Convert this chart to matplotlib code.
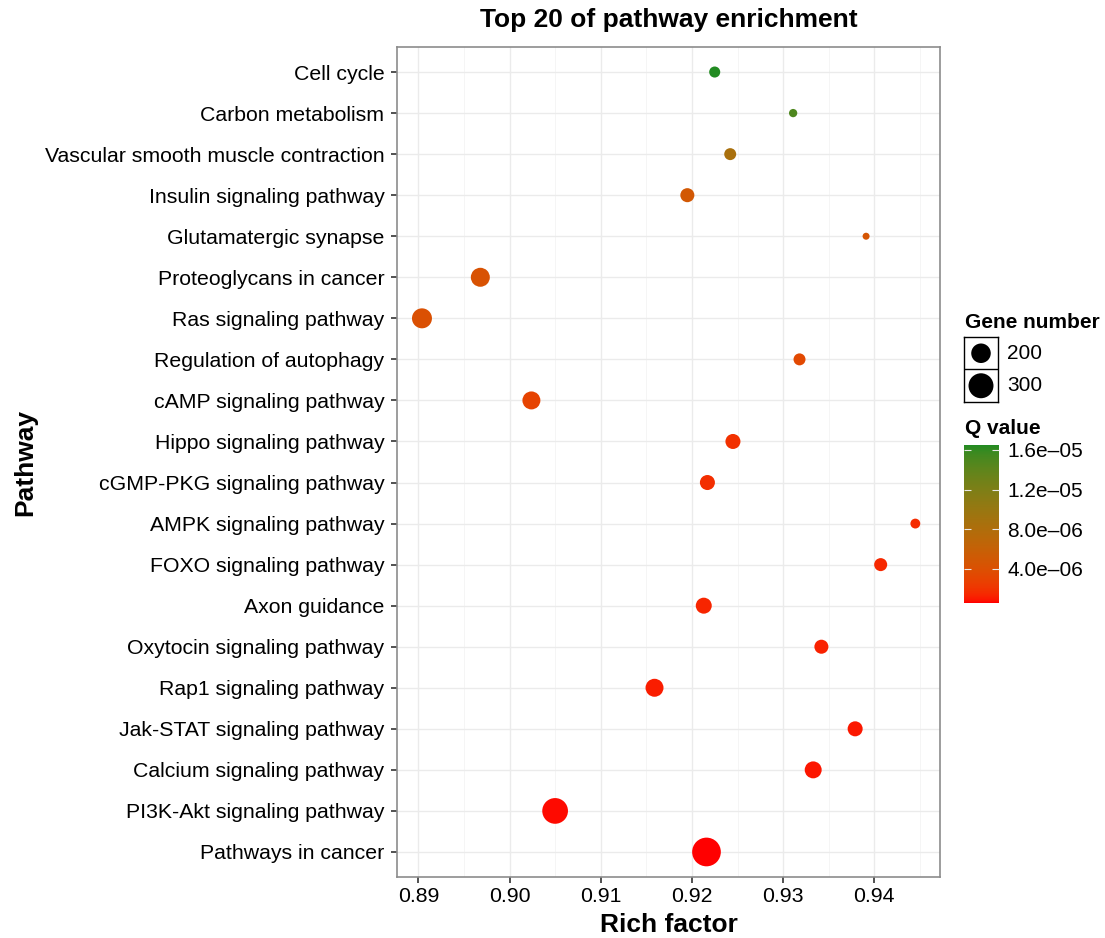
import numpy as np
import matplotlib
matplotlib.use("Agg")
import matplotlib.pyplot as plt
from matplotlib.colors import ListedColormap, Normalize, to_rgb
from matplotlib.cm import ScalarMappable

plt.rcParams['font.family'] = ['Liberation Sans', 'DejaVu Sans']

# pathways listed top to bottom
pathways = ["Cell cycle", "Carbon metabolism", "Vascular smooth muscle contraction",
            "Insulin signaling pathway", "Glutamatergic synapse", "Proteoglycans in cancer",
            "Ras signaling pathway", "Regulation of autophagy", "cAMP signaling pathway",
            "Hippo signaling pathway", "cGMP-PKG signaling pathway", "AMPK signaling pathway",
            "FOXO signaling pathway", "Axon guidance", "Oxytocin signaling pathway",
            "Rap1 signaling pathway", "Jak-STAT signaling pathway", "Calcium signaling pathway",
            "PI3K-Akt signaling pathway", "Pathways in cancer"]
rich_factor = [0.9225, 0.9311, 0.9242, 0.9195, 0.9391, 0.8968, 0.8904, 0.9318, 0.9024, 0.9245,
               0.9217, 0.9445, 0.9407, 0.9213, 0.9342, 0.9159, 0.9379, 0.9333, 0.9050, 0.9216]
gene_number = [115, 106, 120, 135, 105, 192, 207, 120, 178, 144,
               144, 110, 127, 154, 135, 178, 144, 165, 317, 390]
q_value = [1.65e-5, 1.49e-5, 8.5e-6, 4.9e-6, 4.6e-6, 4.3e-6, 4.1e-6, 3.4e-6, 2.95e-6, 1.85e-6,
           1.75e-6, 1.6e-6, 1.5e-6, 1.35e-6, 1.2e-6, 1.1e-6, 1.0e-6, 9.0e-7, 7.0e-7, 5.7e-7]
size_breaks = [200, 300]
q_ticks = [4e-6, 8e-6, 1.2e-5, 1.6e-5]

DPI = 100
W, H = 1105, 938

# --- red -> green ramp interpolated in CIELAB (like ggplot's gradient) ---
M = np.array([[0.4124564, 0.3575761, 0.1804375],
              [0.2126729, 0.7151522, 0.0721750],
              [0.0193339, 0.1191920, 0.9503041]])
WHITE = np.array([0.95047, 1.0, 1.08883])
D = 6 / 29


def to_lab(rgb):
    rgb = np.asarray(rgb, float)
    lin = np.where(rgb <= 0.04045, rgb / 12.92, ((rgb + 0.055) / 1.055) ** 2.4)
    xyz = lin @ M.T / WHITE
    f = np.where(xyz > D ** 3, np.cbrt(xyz), xyz / (3 * D ** 2) + 4 / 29)
    return np.stack([116 * f[..., 1] - 16, 500 * (f[..., 0] - f[..., 1]),
                     200 * (f[..., 1] - f[..., 2])], -1)


def from_lab(lab):
    fy = (lab[..., 0] + 16) / 116
    f = np.stack([fy + lab[..., 1] / 500, fy, fy - lab[..., 2] / 200], -1)
    xyz = np.where(f > D, f ** 3, 3 * D ** 2 * (f - 4 / 29)) * WHITE
    lin = xyz @ np.linalg.inv(M).T
    lin = np.clip(lin, 0, None)
    rgb = np.where(lin <= 0.0031308, 12.92 * lin, 1.055 * lin ** (1 / 2.4) - 0.055)
    return np.clip(rgb, 0, 1)


t = np.linspace(0, 1, 256)[:, None]
lab0, lab1 = to_lab(to_rgb("#FF0000")), to_lab(to_rgb("#228B22"))
cmap = ListedColormap(from_lab(lab0 * (1 - t) + lab1 * t))
norm = Normalize(min(q_value), max(q_value))


def point_area(n):
    # diameter in px grows with sqrt of rescaled gene number (ggplot scale_size)
    frac = (np.asarray(n, float) - min(gene_number)) / (max(gene_number) - min(gene_number))
    d = 7 + 21.7 * np.sqrt(frac)
    return (d * 72 / DPI) ** 2


fig = plt.figure(figsize=(W / DPI, H / DPI), dpi=DPI)
L, R, T, B = 397.3, 940, 47.4, 876.6
ax = fig.add_axes([L / W, 1 - B / H, (R - L) / W, (B - T) / H])

y = np.arange(len(pathways))[::-1] + 1
ax.scatter(rich_factor, y, s=point_area(gene_number), c=q_value, cmap=cmap, norm=norm,
           linewidths=0, zorder=3)

lo, hi = min(rich_factor), max(rich_factor)
pad = 0.05 * (hi - lo)
ax.set_xlim(lo - pad, hi + pad)
ax.set_ylim(0.4, len(pathways) + 0.6)
xt = [0.89, 0.90, 0.91, 0.92, 0.93, 0.94]
ax.set_xticks(xt, [f"{v:.2f}" for v in xt])
ax.set_xticks([0.895, 0.905, 0.915, 0.925, 0.935, 0.945], minor=True)
ax.set_yticks(y, pathways)
ax.grid(True, which='major', color='#EBEBEB', lw=1.0, zorder=0)
ax.grid(True, which='minor', axis='x', color='#F4F4F4', lw=0.6, zorder=0)
ax.set_axisbelow(True)
ax.tick_params(which='major', length=4.3, width=1.2, color='#333333', labelsize=15.3,
               labelcolor='black')
ax.tick_params(axis='y', pad=5)
ax.tick_params(axis='x', pad=3)
ax.tick_params(which='minor', length=0)
for sp in ax.spines.values():
    sp.set_color('#8C8C8C')
    sp.set_linewidth(1.2)

ax.text(0.5, 1 + (B - 20) / (B - T) - 1, "Top 20 of pathway enrichment", transform=ax.transAxes,
        ha='center', va='center', fontsize=19, fontweight='bold')
ax.set_xlabel("Rich factor", fontsize=19, fontweight='bold', va='center')
ax.xaxis.set_label_coords(0.5, -(925 - B) / (B - T))
ax.set_ylabel("Pathway", fontsize=19, fontweight='bold', va='center')
ax.yaxis.set_label_coords(-(L - 25) / (R - L), 0.5)

# --- gene number legend ---
fig.text(965 / W, 1 - 322 / H, "Gene number", fontsize=15, fontweight='bold', va='center')
lg = fig.add_axes([964 / W, 1 - 402 / H, 34 / W, 65 / H])
lg.set_xlim(0, 1)
lg.set_ylim(0, 1)
lg.scatter([0.5, 0.5], [0.75, 0.25], s=point_area(size_breaks), color='black', linewidths=0)
lg.axhline(0.5, color='black', lw=1)
lg.set_xticks([])
lg.set_yticks([])
for sp in lg.spines.values():
    sp.set_color('black')
    sp.set_linewidth(1)
for yy, v in zip([0.75, 0.25], size_breaks):
    lg.text(1.26, yy, str(v), transform=lg.transAxes, fontsize=15, va='center')

# --- Q value colorbar ---
fig.text(965 / W, 1 - 428 / H, "Q value", fontsize=15, fontweight='bold', va='center')
cax = fig.add_axes([964 / W, 1 - 603 / H, 35 / W, 158 / H])
cb = fig.colorbar(ScalarMappable(norm=norm, cmap=cmap), cax=cax)
cb.outline.set_visible(False)
cb.set_ticks(q_ticks, labels=[f"{v:.1e}".replace('-', '\u2013') for v in q_ticks])
cax.yaxis.set_ticks_position('both')
cax.tick_params(direction='in', length=5, width=0.8, color='#E8E8E8', labelsize=15,
                labelleft=False, labelright=True, pad=6)

fig.savefig("out.png", dpi=DPI, facecolor='white')
